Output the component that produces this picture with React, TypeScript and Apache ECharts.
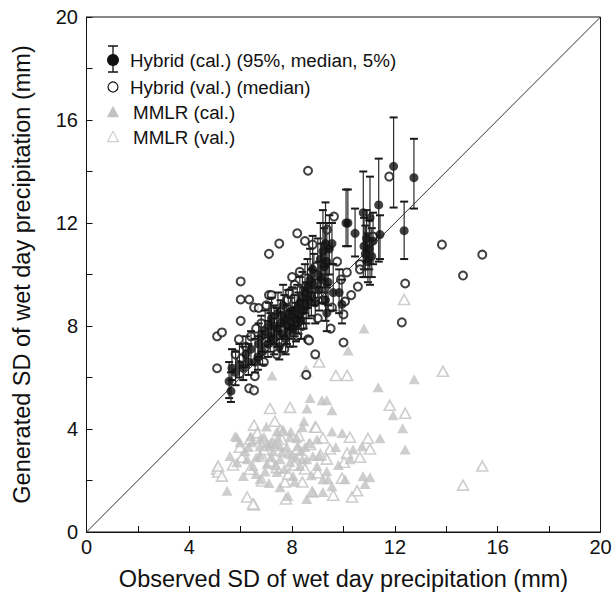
import React, { useEffect, useRef } from "react";
import * as echarts from "echarts";

// Hybrid (cal.): [observed, median, 95%, 5%]
const hybridCal: number[][] = [
  [5.55, 5.85, 6.6, 5.2], [5.62, 5.47, 6.2, 5.05], [5.66, 6.36, 7.1, 5.9], [5.8, 6.2, 7.0, 5.7],
  [5.95, 6.5, 7.3, 6.0], [6.1, 6.36, 7.2, 5.9], [6.2, 6.9, 7.6, 6.4], [6.3, 6.6, 7.3, 6.1],
  [6.4, 7.1, 7.8, 6.5], [6.56, 6.6, 7.5, 6.2], [6.67, 6.8, 7.6, 6.3], [6.7, 7.3, 8.1, 6.8],
  [6.8, 7.6, 8.4, 7.0], [6.85, 7.0, 7.8, 6.5], [6.95, 7.8, 8.6, 7.2], [7.06, 7.3, 8.2, 6.8],
  [7.1, 8.0, 8.9, 7.4], [7.15, 7.6, 8.5, 7.0], [7.2, 8.3, 9.1, 7.6], [7.3, 7.5, 8.3, 6.9],
  [7.3, 8.0, 8.8, 7.3], [7.4, 7.8, 8.7, 7.2], [7.45, 8.5, 9.3, 7.8], [7.5, 7.2, 8.0, 6.7],
  [7.55, 8.1, 9.0, 7.5], [7.6, 7.7, 8.5, 7.0], [7.65, 8.8, 9.6, 8.1], [7.7, 8.3, 9.2, 7.6],
  [7.75, 7.5, 8.3, 6.9], [7.8, 8.0, 8.8, 7.3], [7.85, 8.5, 9.4, 7.9], [7.9, 7.8, 8.6, 7.2],
  [7.95, 8.2, 9.1, 7.5], [8.0, 8.6, 9.5, 8.0], [8.05, 7.9, 8.7, 7.2], [8.1, 8.3, 9.2, 7.6],
  [8.15, 8.0, 8.9, 7.4], [8.2, 8.7, 9.6, 8.0], [8.25, 8.4, 9.3, 7.7], [8.3, 8.9, 9.9, 8.2],
  [8.35, 8.2, 9.0, 7.5], [8.4, 9.1, 10.1, 8.3], [8.45, 8.6, 9.5, 7.9], [8.5, 9.3, 10.4, 8.5],
  [8.55, 8.8, 9.7, 8.1], [8.6, 9.5, 10.6, 8.7], [8.65, 9.0, 10.0, 8.3], [8.7, 9.8, 11.0, 9.0],
  [8.75, 9.2, 10.2, 8.4], [8.8, 10.2, 11.5, 9.3], [8.85, 9.6, 10.8, 8.8], [8.9, 8.9, 9.8, 8.1],
  [9.0, 10.0, 11.4, 9.1], [9.05, 9.4, 10.5, 8.6], [9.1, 10.6, 12.0, 9.5], [9.15, 9.8, 11.2, 8.9],
  [9.2, 10.9, 12.5, 9.8], [9.25, 10.3, 11.8, 9.3], [9.3, 9.0, 10.3, 8.2], [9.3, 11.2, 12.8, 10.0],
  [9.35, 8.5, 9.6, 7.8], [9.35, 10.5, 12.0, 9.5], [9.4, 9.7, 11.0, 8.8], [9.45, 11.0, 12.3, 10.0],
  [9.55, 11.2, 12.0, 10.4], [9.6, 9.3, 10.4, 8.6], [9.83, 9.3, 10.2, 8.5], [9.94, 8.84, 9.8, 8.1],
  [10.1, 12.0, 13.3, 11.1], [10.17, 12.0, 13.3, 11.1], [10.45, 11.6, 12.56, 10.7],
  [10.77, 12.4, 14.0, 9.9], [10.8, 11.1, 12.2, 10.2], [10.85, 10.8, 11.9, 9.9], [10.9, 11.4, 12.5, 10.5],
  [10.95, 10.5, 11.6, 9.7], [11.0, 11.0, 12.1, 10.2], [11.03, 12.2, 13.8, 9.6], [11.1, 10.7, 11.8, 9.9],
  [11.15, 11.3, 12.4, 10.4], [11.37, 12.7, 14.5, 10.5], [11.42, 11.55, 12.3, 10.6],
  [11.95, 14.2, 16.1, 12.6], [12.36, 11.7, 12.83, 10.6], [12.74, 13.76, 15.27, 12.56],
];

// Hybrid (val.) median: [observed, generated]
const hybridVal: number[][] = [
  [8.62, 14.03], [11.78, 13.8], [9.63, 12.25], [13.83, 11.16], [15.4, 10.77], [14.65, 9.96],
  [12.4, 9.65], [12.27, 8.14], [8.5, 11.3], [8.8, 11.16], [8.2, 11.6], [7.5, 11.2], [7.1, 10.8],
  [9.36, 11.74], [10.13, 10.08], [10.56, 9.53], [10.64, 10.4], [10.64, 10.2], [11.15, 11.47],
  [10.3, 9.2], [10.06, 8.95], [10.0, 8.45], [9.55, 8.72], [9.5, 7.9], [8.62, 7.48], [10.0, 7.36],
  [8.9, 6.9], [8.55, 6.1], [6.0, 9.73], [6.0, 9.03], [6.33, 9.03], [6.52, 8.72], [6.7, 8.7],
  [6.0, 8.2], [5.08, 7.6], [5.27, 7.75], [5.08, 6.36], [7.1, 9.2], [7.2, 9.2], [8.0, 9.9],
  [6.33, 5.58], [6.52, 5.5], [6.0, 6.74], [5.93, 7.48], [8.66, 7.44], [6.4, 7.6], [6.8, 8.1],
  [7.0, 7.4], [7.3, 8.6], [7.6, 8.4], [7.8, 9.0], [8.1, 9.6], [8.3, 10.1], [8.5, 9.5], [8.9, 10.3],
  [9.0, 8.3], [6.2, 7.2], [6.9, 6.6], [7.4, 6.9], [7.7, 7.1], [8.2, 7.6], [8.4, 8.0], [9.2, 9.0],
  [7.9, 9.3], [6.6, 7.9], [5.8, 6.9], [9.75, 10.5], [9.9, 9.8], [7.0, 8.8], [6.55, 6.05],
];

// MMLR (cal.): [observed, generated]
const mmlrCal: number[][] = [
  [10.8, 7.9], [10.18, 7.05], [12.75, 5.93], [11.35, 5.62], [8.7, 5.2], [9.16, 5.12], [9.35, 5.12],
  [8.58, 4.8], [9.55, 4.73], [11.93, 4.53], [12.3, 4.03], [12.4, 3.2], [8.46, 4.3], [8.4, 4.07],
  [11.42, 3.64], [10.72, 3.33], [9.95, 3.84], [7.22, 6.08], [5.47, 1.6], [7.41, 3.9], [7.65, 3.98],
  [7.92, 3.68], [8.19, 3.64], [5.85, 3.68], [5.97, 3.49], [6.44, 3.49], [6.75, 3.33], [7.02, 3.45],
  [7.18, 3.5], [7.33, 3.42], [7.53, 3.33], [7.79, 3.29], [7.26, 3.14], [6.75, 3.0], [6.17, 3.14],
  [5.58, 2.95], [5.85, 2.71], [6.25, 2.83], [6.48, 2.56], [7.02, 2.64], [7.53, 2.83], [7.92, 2.71],
  [8.3, 2.56], [8.57, 2.83], [8.81, 2.95], [8.04, 2.17], [7.41, 2.33], [6.75, 2.05], [6.1, 2.17],
  [7.53, 1.74], [7.84, 1.4], [8.81, 1.55], [5.78, 3.72], [6.4, 3.72], [6.75, 3.6], [7.1, 3.33],
  [8.23, 3.33], [8.5, 3.3], [8.97, 3.6], [9.08, 2.95], [9.35, 2.36], [9.2, 2.05], [9.4, 2.05],
  [9.2, 1.55], [9.55, 1.78], [10.06, 2.05], [10.76, 2.17], [11.03, 2.13], [10.84, 1.86],
  [9.55, 3.9], [10.37, 3.2], [10.25, 2.83], [8.4, 2.83], [8.97, 2.56], [8.57, 1.28], [7.2, 2.9],
  [6.9, 3.7], [7.6, 3.1], [8.0, 3.0], [6.6, 2.9], [7.0, 4.1], [7.35, 2.6], [7.7, 2.45],
  [8.15, 2.9], [8.65, 3.45], [6.3, 3.3], [6.95, 2.35], [7.85, 3.05], [8.35, 3.15], [7.45, 3.65],
  [9.8, 2.6], [9.7, 3.3], [8.1, 1.95], [7.1, 1.9], [6.6, 2.25], [8.75, 2.2], [7.95, 3.9],
];

// MMLR (val.): [observed, generated]
const mmlrVal: number[][] = [
  [15.4, 2.56], [14.65, 1.82], [13.87, 6.24], [12.36, 9.03], [11.8, 4.92], [12.4, 4.61],
  [9.7, 6.08], [10.14, 6.08], [9.05, 6.6], [8.54, 6.24], [7.92, 4.84], [8.89, 4.07], [7.14, 4.8],
  [6.52, 4.15], [7.33, 4.3], [8.93, 4.07], [5.08, 2.44], [5.12, 2.33], [5.27, 2.17], [6.25, 1.36],
  [6.52, 1.05], [7.76, 1.28], [8.78, 1.55], [9.6, 1.43], [10.33, 1.36], [10.53, 1.6], [10.95, 3.64],
  [11.03, 3.22], [10.64, 2.9], [10.14, 3.06], [10.02, 2.71], [9.94, 2.09], [9.47, 3.22], [9.35, 2.83],
  [10.25, 3.68], [6.36, 3.6], [5.97, 3.29], [5.12, 2.56], [6.36, 2.44], [6.83, 1.98], [7.72, 1.94],
  [8.4, 1.94], [6.48, 1.09], [8.19, 3.22], [6.83, 2.95], [7.14, 2.75], [7.6, 3.6], [8.1, 2.6],
  [6.9, 3.2], [7.4, 2.5], [8.7, 3.4], [9.1, 3.0], [5.7, 2.6], [6.05, 2.9], [7.85, 2.25],
  [8.5, 2.45], [9.2, 3.65], [7.55, 3.95], [6.65, 3.85], [7.25, 3.45], [8.25, 3.75], [9.0, 2.3],
];

const diagonal: number[][] = [[0, 0], [20, 20]];
const ticks = { min: 0, max: 20, interval: 4 };

const GRAY = "#c2c2c2";
const FONT = "Liberation Sans, Arial, sans-serif";

function tri(cx: number, cy: number, s: number) {
  const h = s * 0.866;
  return [[cx, cy - h / 2 - 1], [cx - s / 2, cy + h / 2], [cx + s / 2, cy + h / 2]];
}

export default function App() {
  const ref = useRef<HTMLDivElement>(null);
  useEffect(() => {
    document.body.style.margin = "0";
    const chart = echarts.init(ref.current!, null, { renderer: "svg" });
    const axisCommon = {
      type: "value" as const,
      min: ticks.min,
      max: ticks.max,
      interval: ticks.interval,
      axisLine: { show: true, lineStyle: { color: "#111", width: 1 } },
      axisTick: { show: true, inside: true, length: 6, lineStyle: { color: "#111" } },
      minorTick: { show: true, splitNumber: 2, length: 6, lineStyle: { color: "#111" } },
      splitLine: { show: false },
      axisLabel: { color: "#111", fontSize: 20, fontFamily: FONT },
      nameLocation: "middle" as const,
      nameTextStyle: { color: "#111", fontSize: 23.5, fontFamily: FONT },
    };
    const legendText = { fontSize: 18.8, fontFamily: FONT, fill: "#111", verticalAlign: "middle" };
    chart.setOption({
      animation: false,
      backgroundColor: "#fff",
      grid: {
        left: 86.5, right: 15.5, top: 17, bottom: 63,
        show: true, borderColor: "#111", borderWidth: 1,
      },
      xAxis: { ...axisCommon, name: "Observed SD of wet day precipitation (mm)", nameGap: 35, axisLabel: { ...axisCommon.axisLabel, margin: 5 } },
      yAxis: { ...axisCommon, name: "Generated SD of wet day precipitation (mm)", nameGap: 53, axisLabel: { ...axisCommon.axisLabel, margin: 8.5 } },
      series: [
        {
          type: "line", data: diagonal, symbol: "none", silent: true,
          lineStyle: { color: "#333", width: 1 }, z: 1,
        },
        {
          type: "scatter", data: mmlrVal, symbol: "triangle", symbolSize: [11, 10],
          itemStyle: { color: "#fff", borderColor: GRAY, borderWidth: 1.6 }, z: 2,
        },
        {
          type: "scatter", data: mmlrCal, symbol: "triangle", symbolSize: [11, 10],
          itemStyle: { color: GRAY }, z: 3,
        },
        {
          type: "scatter", data: hybridVal, symbol: "circle", symbolSize: 8,
          itemStyle: { color: "#fff", borderColor: "#111", borderWidth: 2 }, z: 4,
        },
        {
          type: "custom", data: hybridCal, z: 5,
          encode: { x: 0, y: [1, 2, 3] },
          renderItem: (params: any, api: any) => {
            const x = api.value(0);
            const hi = api.coord([x, api.value(2)]);
            const lo = api.coord([x, api.value(3)]);
            const w = 4;
            const st = { stroke: "#2a2a2a", lineWidth: 1.2 };
            const cap = { stroke: "#1a1a1a", lineWidth: 2 };
            return {
              type: "group",
              children: [
                { type: "line", shape: { x1: hi[0], y1: hi[1], x2: lo[0], y2: lo[1] }, style: st },
                { type: "line", shape: { x1: hi[0] - w, y1: hi[1], x2: hi[0] + w, y2: hi[1] }, style: cap },
                { type: "line", shape: { x1: lo[0] - w, y1: lo[1], x2: lo[0] + w, y2: lo[1] }, style: cap },
              ],
            };
          },
        },
        {
          type: "scatter", data: hybridCal.map((d) => [d[0], d[1]]), symbol: "circle", symbolSize: 9,
          itemStyle: { color: "#111" }, z: 6,
        },
      ],
      graphic: [
        { type: "line", shape: { x1: 113, y1: 46, x2: 113, y2: 72 }, style: { stroke: "#111", lineWidth: 1.3 } },
        { type: "line", shape: { x1: 108, y1: 46, x2: 118, y2: 46 }, style: { stroke: "#111", lineWidth: 1.5 } },
        { type: "line", shape: { x1: 108, y1: 72, x2: 118, y2: 72 }, style: { stroke: "#111", lineWidth: 1.5 } },
        { type: "circle", shape: { cx: 113, cy: 60, r: 6 }, style: { fill: "#111" } },
        { type: "text", x: 130, y: 60, style: { text: "Hybrid (cal.) (95%, median, 5%)", ...legendText } },
        { type: "circle", shape: { cx: 113, cy: 87, r: 5 }, style: { fill: "#fff", stroke: "#111", lineWidth: 1.2 } },
        { type: "text", x: 130, y: 87, style: { text: "Hybrid (val.) (median)", ...legendText } },
        { type: "polygon", shape: { points: tri(113, 112, 12) }, style: { fill: GRAY } },
        { type: "text", x: 133, y: 112, style: { text: "MMLR (cal.)", ...legendText } },
        { type: "polygon", shape: { points: tri(113, 137, 11) }, style: { fill: "#fff", stroke: GRAY, lineWidth: 1 } },
        { type: "text", x: 133, y: 137, style: { text: "MMLR (val.)", ...legendText } },
      ],
    });
    return () => chart.dispose();
  }, []);
  return <div ref={ref} style={{ width: 616, height: 596 }} />;
}
